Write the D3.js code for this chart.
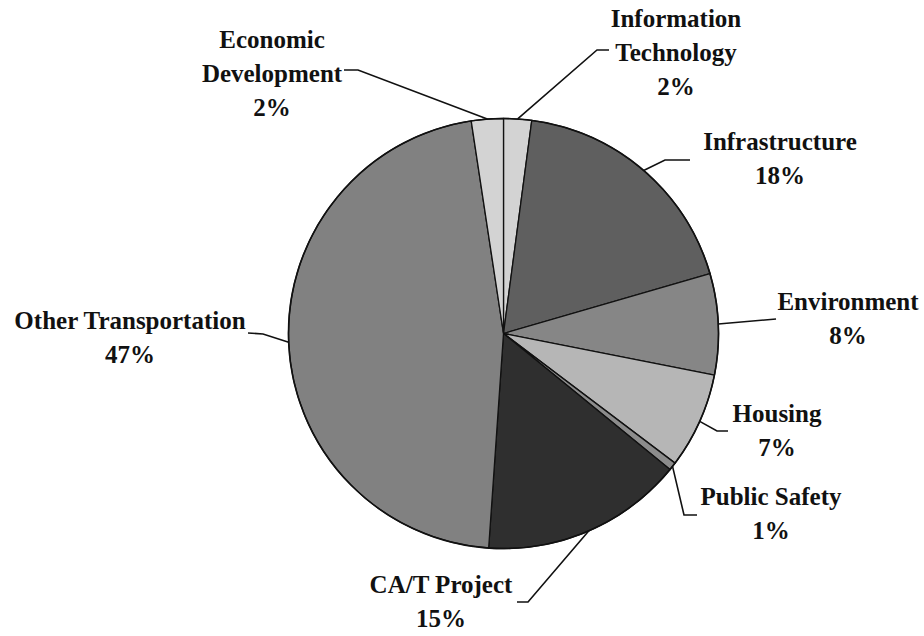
<!DOCTYPE html>
<html>
<head>
<meta charset="utf-8">
<script src="https://cdn.jsdelivr.net/npm/d3@7"></script>
<style>
  body { margin: 0; background: #fff; }
  text { font-family: "Liberation Serif", "Times New Roman", serif; font-weight: bold; fill: #111; }
</style>
</head>
<body>
<div id="chart"></div>
<script>
// Slices, clockwise from 12 o'clock
const categories = ["Information Technology", "Infrastructure", "Environment", "Housing",
    "Public Safety", "CA/T Project", "Other Transportation", "Economic Development"];
const shares = [2.1, 18.4, 7.6, 7.2, 0.6, 15.2, 46.5, 2.4];
const labelLines = [["Information", "Technology"], ["Infrastructure"], ["Environment"], ["Housing"],
    ["Public Safety"], ["CA/T Project"], ["Other Transportation"], ["Economic", "Development"]];
const fills = ["#d3d3d3", "#5f5f5f", "#868686", "#b6b6b6", "#8c8c8c", "#2f2f2f", "#818181", "#d3d3d3"];

const width = 924, height = 636;
const cx = 503.5, cy = 333.5, radius = 215;

// label placement: text centre x, first baseline, and leader bend / end points
const layout = [
    { x: 676, y: 27, bend: [597, 50], end: [609, 50] },
    { x: 780, y: 150, bend: [665, 160], end: [690, 160] },
    { x: 848, y: 310, bend: null, end: [776, 319] },
    { x: 777, y: 422, bend: [717, 431], end: [728, 431] },
    { x: 771, y: 505, bend: [684, 515], end: [697, 515] },
    { x: 441, y: 593, bend: [528, 602], end: [517, 602] },
    { x: 130, y: 329, bend: [263, 334], end: [248, 333] },
    { x: 272, y: 48, bend: [358, 70], end: [344, 70] }
];
const lineGap = 34;

const svg = d3.select("#chart")
    .append("svg")
    .attr("width", width)
    .attr("height", height);

const data = categories.map((c, i) => ({ name: c, value: shares[i], i }));

const pie = d3.pie()
    .value(d => d.value)
    .sort(null);

const arc = d3.arc()
    .innerRadius(0)
    .outerRadius(radius);

const arcs = pie(data);

const g = svg.append("g")
    .attr("transform", `translate(${cx},${cy})`);

g.selectAll("path.slice")
    .data(arcs)
    .join("path")
    .attr("class", "slice")
    .attr("d", arc)
    .attr("fill", d => fills[d.data.i])
    .attr("stroke", "#111")
    .attr("stroke-width", 1.3)
    .attr("stroke-linejoin", "round");

g.append("circle")
    .attr("r", radius)
    .attr("fill", "none")
    .attr("stroke", "#111")
    .attr("stroke-width", 1.6);

// leader lines from the slice edge at its middle angle
const leader = d3.line();
svg.selectAll("path.leader")
    .data(arcs)
    .join("path")
    .attr("class", "leader")
    .attr("d", d => {
        const a = (d.startAngle + d.endAngle) / 2;
        const start = [cx + radius * Math.sin(a), cy - radius * Math.cos(a)];
        const L = layout[d.data.i];
        const pts = [start];
        if (L.bend) pts.push(L.bend);
        pts.push(L.end);
        return leader(pts);
    })
    .attr("fill", "none")
    .attr("stroke", "#111")
    .attr("stroke-width", 1.6);

// labels: name lines + rounded percent
const labels = svg.selectAll("text.label")
    .data(arcs)
    .join("text")
    .attr("class", "label")
    .attr("text-anchor", "middle")
    .attr("font-size", 25);

labels.each(function (d) {
    const L = layout[d.data.i];
    const lines = labelLines[d.data.i].concat([Math.round(d.data.value) + "%"]);
    d3.select(this).selectAll("tspan")
        .data(lines)
        .join("tspan")
        .attr("x", L.x)
        .attr("y", (t, k) => L.y + k * lineGap)
        .text(t => t);
});
</script>
</body>
</html>
